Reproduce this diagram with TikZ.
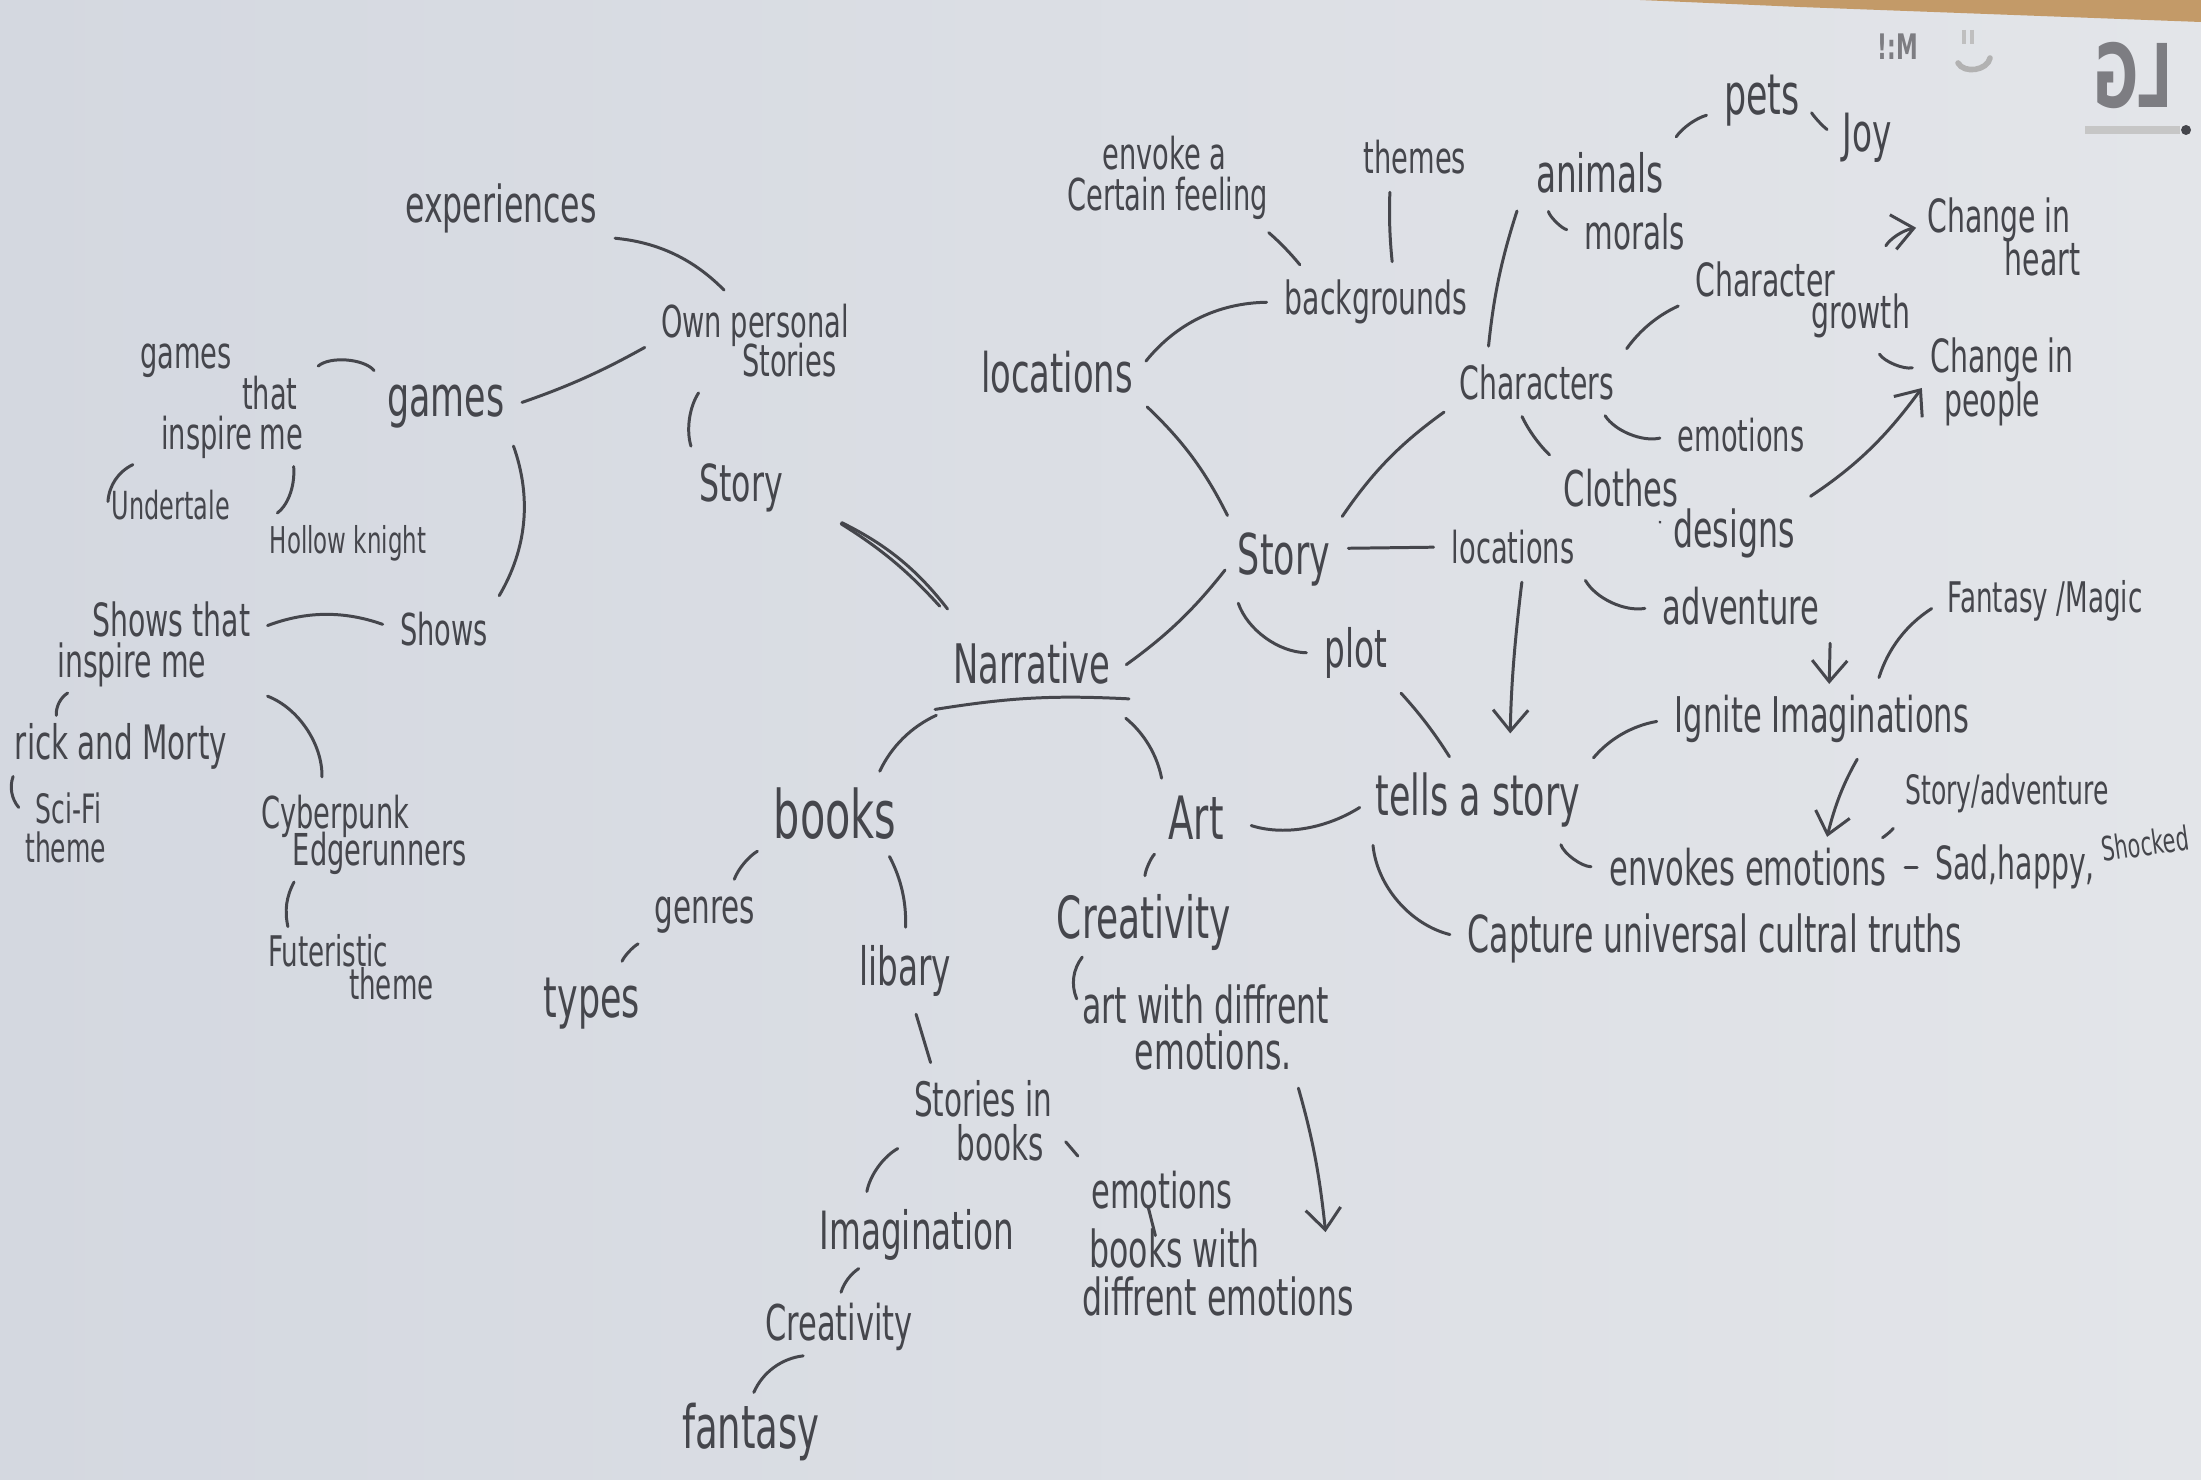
\documentclass[tikz,border=0pt]{standalone}
\usepackage{fontspec}
\setmainfont{DejaVu Sans}[FakeStretch=0.62]
\usetikzlibrary{arrows.meta,calc}
\definecolor{paperA}{HTML}{D4D8E0}
\definecolor{paperB}{HTML}{E3E5E9}
\definecolor{ink}{HTML}{45464C}
\definecolor{wood}{HTML}{C39A68}
\newcommand{\fz}[2]{\fontsize{#1pt}{#2pt}\selectfont\lineskiplimit=-60pt\relax}
\begin{document}
\begin{tikzpicture}[x=0.01cm,y=-0.01cm,
  lab/.style={inner sep=1pt,text=ink},
  ml/.style={lab,align=left,anchor=north west},
  con/.style={draw=ink,line width=0.85pt,line cap=round,shorten <=4pt,shorten >=4pt},
  arr/.style={con,shorten >=2pt,-{Straight Barb[length=6pt,width=10pt]}}]
\shade[left color=paperA,right color=paperB] (0,0) rectangle (2201,1479);
\useasboundingbox (0,0) rectangle (2201,1479);
\fill[wood] (1640,0) -- (2201,0) -- (2201,22) -- (1800,7) -- cycle;
% bleed-through marks
\node[text=ink!70,font=\bfseries\fz{25}{25},xscale=-1] (lg) at (2133,75) {LG};
\draw[gray!45,line width=2.5pt] (2085,130) -- (2180,130);
\fill[ink] (2186,130) circle (5);
\node[text=ink!70,font=\bfseries\fz{10}{10}] (mk) at (1898,47) {!:M};
\draw[gray!60,line width=1.6pt,line cap=round] (1958,63) to[bend right=70] (1990,58);
\draw[gray!50,line width=1.2pt] (1964,30) -- (1964,44) (1972,30) -- (1972,44);

% ---------- nodes ----------
\node[lab,font=\fz{14.5}{17}] (expe) at (501,208) {experiences};
\node[ml,font=\fz{12.5}{11}] (ops) at (657,300) {Own personal\\\hspace*{23pt}Stories};
\node[lab,font=\fz{16}{19}] (gamesM) at (446,407) {games};
\node[ml,font=\fz{12.5}{11.5}] (gti) at (136,340) {games\\\hspace*{29pt}that\\\hspace*{6pt}inspire\,me};
\node[lab,font=\fz{11}{13}] (under) at (171,505) {Undertale};
\node[lab,font=\fz{10.5}{13}] (hollow) at (348,543) {Hollow knight};
\node[lab,font=\fz{14.5}{17}] (storyL) at (741,488) {Story};
\node[lab,font=\fz{12.5}{15}] (shows) at (444,629) {Shows};
\node[ml,font=\fz{13}{11.5}] (sti) at (53,598) {\hspace*{10pt}Shows that\\inspire me};
\node[lab,font=\fz{13.5}{16}] (rick) at (121,746) {rick and Morty};
\node[ml,font=\fz{11.5}{11}] (scifi) at (21,789) {\hspace*{3pt}Sci-Fi\\theme};
\node[ml,font=\fz{12.5}{10.5}] (cyber) at (257,791) {Cyberpunk\\\hspace*{9pt}Edgerunners};
\node[ml,font=\fz{12}{9.5}] (futer) at (264,930) {Futeristic\\\hspace*{23pt}theme};
\node[lab,font=\fz{15.5}{18}] (narr) at (1032,663) {Narrative};
\node[lab,font=\fz{15.5}{18}] (locT) at (1057,372) {locations};
\node[lab,font=\fz{13}{15}] (backg) at (1376,302) {backgrounds};
\node[ml,font=\fz{12.5}{11.5}] (envk) at (1063,132) {\hspace*{10pt}envoke a\\Certain feeling};
\node[lab,font=\fz{12.5}{15}] (themes) at (1415,157) {themes};
\node[lab,font=\fz{15}{18}] (anim) at (1600,173) {animals};
\node[lab,font=\fz{16}{19}] (pets) at (1762,101) {pets};
\node[lab,font=\fz{15}{18}] (joy) at (1867,138) {Joy};
\node[lab,font=\fz{13.5}{16}] (morals) at (1635,232) {morals};
\node[lab,font=\fz{13}{15}] (chars) at (1537,382) {Characters};
\node[ml,font=\fz{13}{9}] (cgrow) at (1691,258) {Character\\\hspace*{33pt}growth};
\node[ml,font=\fz{13}{12}] (cheart) at (1923,194) {Change in\\\hspace*{22pt}heart};
\node[ml,font=\fz{13}{12.5}] (cpeople) at (1926,334) {Change in\\\hspace*{4pt}people};
\node[lab,font=\fz{12.5}{15}] (emoC) at (1741,435) {emotions};
\node[lab,font=\fz{14}{16}] (clothes) at (1621,488) {Clothes};
\node[lab,font=\fz{14.5}{17}] (designs) at (1734,533) {designs};
\node[lab,font=\fz{16}{19}] (storyC) at (1284,559) {Story};
\node[lab,font=\fz{12.5}{15}] (locR) at (1513,547) {locations};
\node[lab,font=\fz{14}{16}] (adv) at (1741,606) {adventure};
\node[lab,font=\fz{12}{14}] (fmagic) at (2045,601) {Fantasy /Magic};
\node[lab,font=\fz{15}{18}] (plot) at (1356,653) {plot};
\node[lab,font=\fz{14}{16}] (ignite) at (1822,719) {Ignite Imaginations};
\node[lab,font=\fz{16}{19}] (tells) at (1478,800) {tells a story};
\node[lab,font=\fz{11.5}{14}] (stadv) at (2007,793) {Story/adventure};
\node[lab,font=\fz{14}{16}] (envE) at (1748,867) {envokes emotions};
\node[lab,font=\fz{13}{15}] (sad) at (2015,867) {Sad,happy,};
\node[lab,font=\fz{9.5}{12},rotate=8,anchor=west] (shock) at (2098,850) {Shocked};
\node[lab,font=\fz{14.5}{17}] (capt) at (1715,938) {Capture universal cultral truths};
\node[lab,font=\fz{19}{22}] (books) at (835,814) {books};
\node[lab,font=\fz{17}{20}] (art) at (1196,818) {Art};
\node[lab,font=\fz{13.5}{16}] (genres) at (705,915) {genres};
\node[lab,font=\fz{16}{19}] (types) at (592,1004) {types};
\node[lab,font=\fz{15}{18}] (libary) at (905,971) {libary};
\node[lab,font=\fz{16.5}{19}] (creaA) at (1144,922) {Creativity};
\node[ml,font=\fz{14.5}{13}] (artwd) at (1078,981) {art with diffrent\\\hspace*{15pt}emotions.};
\node[ml,font=\fz{13.5}{12.5}] (sib) at (910,1076) {Stories in\\\hspace*{12pt}books};
\node[lab,font=\fz{15}{18}] (imag) at (917,1235) {Imagination};
\node[lab,font=\fz{14}{16}] (emoB) at (1162,1190) {emotions};
\node[ml,font=\fz{14.5}{13.5}] (bwde) at (1078,1225) {\hspace*{2pt}books with\\diffrent emotions};
\node[lab,font=\fz{14}{16}] (creaL) at (839,1327) {Creativity};
\node[lab,font=\fz{17}{20}] (fant) at (751,1432) {fantasy};

% Narrative underline
\draw[con,shorten <=0pt,shorten >=0pt] ([xshift=-4pt,yshift=-6pt]narr.south west) to[bend left=6] ([xshift=4pt,yshift=-3pt]narr.south east);

% ---------- connectors ----------
\draw[con] (expe.south east) to[bend left=20] ([xshift=-6pt]ops.north);
\draw[con] (ops.west) to[bend left=5] (gamesM.east);
\draw[con] ([xshift=14pt]ops.south west) to[bend right=25] (storyL.north west);
\draw[con] (gamesM.north west) to[bend right=45] ([yshift=-10pt]gti.north east);
\draw[con,shorten <=1pt,shorten >=1pt] (gti.south west) to[bend right=30] (under.west);
\draw[con,shorten <=1pt] ([xshift=-4pt]gti.south east) to[bend left=30] (hollow.north west);
\draw[con] (gamesM.south east) to[bend left=25] (shows.north east);
\draw[con] (shows.west) to[bend right=20] ([yshift=4pt]sti.east);
\draw[con,shorten <=1pt,shorten >=1pt] ([xshift=5pt]sti.south west) to[bend right=30] ([xshift=13pt]rick.north west);
\draw[con,shorten <=1pt,shorten >=1pt] ([xshift=1pt]rick.south west) to[bend right=30] ([yshift=-6pt]scifi.north west);
\draw[con] (sti.south east) to[bend left=35] ([xshift=-12pt]cyber.north);
\draw[con,shorten <=1pt,shorten >=1pt] ([xshift=11pt]cyber.south west) to[bend right=20] ([xshift=7pt]futer.north west);
\draw[con] ([xshift=12pt]storyL.south east) to[bend left=8] ([yshift=6pt]narr.north west);
\draw[con] ([xshift=12pt]storyL.south east) to[bend left=13] ([xshift=2pt,yshift=5pt]narr.north west);
\draw[con] ([yshift=-10pt]narr.north east) to[bend right=8] (storyC.west);
\draw[con] (locT.south east) to[bend left=10] (storyC.north west);
\draw[con] (locT.east) to[bend left=25] (backg.west);
\draw[con] ([xshift=8pt]backg.north west) to[bend right=5] ([xshift=-4pt]envk.south east);
\draw[con] ([xshift=5pt]backg.north) to[bend left=4] ([xshift=-7pt]themes.south);
\draw[con] ([xshift=9pt]chars.north west) to[bend left=6] ([xshift=-3pt]anim.south west);
\draw[con] (anim.north east) to[bend left=20] ([yshift=-3pt]pets.west);
\draw[con] (pets.east) to[bend right=10] (joy.west);
\draw[con] ([xshift=4pt]anim.south west) to[bend right=35] (morals.west);
\draw[con] (storyC.north east) to[bend left=10] (chars.south west);
\draw[con] (chars.north east) to[bend left=15] (cgrow.west);
\draw[arr] ([xshift=-10pt]cgrow.north east) to[bend left=25] ([yshift=3pt]cheart.west);
\draw[con] ([xshift=-12pt]cgrow.south east) to[bend right=35] ([yshift=5pt]cpeople.west);
\draw[arr] (designs.north east) to[bend right=10] (cpeople.west);
\draw[con] ([xshift=-6pt]chars.south east) to[bend right=35] (emoC.west);
\draw[con] ([xshift=-6pt]chars.south) to[bend right=10] (clothes.north west);
\draw[con] ([xshift=-9pt]clothes.south east) -- (designs.west);
\draw[con] ([yshift=3pt]storyC.east) -- (locR.west);
\draw[con] (locR.south east) to[bend right=35] (adv.west);
\draw[arr,shorten >=10pt] ([xshift=3pt]locR.south) to[bend right=3] ([xshift=9pt]tells.north);
\draw[con] (storyC.south west) to[bend right=35] (plot.west);
\draw[con] (plot.south east) to[bend left=5] ([xshift=-6pt]tells.north);
\draw[arr] ([xshift=2pt]adv.south east) -- ([xshift=2pt]ignite.north);
\draw[con] ([xshift=15pt]ignite.north) to[bend left=20] (fmagic.west);
\draw[con] (tells.north east) to[bend left=20] (ignite.west);
\draw[arr] ([xshift=12pt]ignite.south) to[bend right=8] ([xshift=22pt]envE.north);
\draw[con] (stadv.south west) to[bend left=15] ([xshift=-6pt]envE.north east);
\draw[con] ([xshift=-8pt]tells.south east) to[bend right=35] (envE.west);
\draw[con] (envE.east) -- (sad.west);
\draw[con] (tells.south west) to[bend right=35] (capt.west);
\draw[con,shorten <=7pt] (art.east) to[bend right=25] (tells.west);
\draw[con] ([yshift=-6pt]narr.south west) to[bend right=20] ([xshift=11pt]books.north);
\draw[con] ([yshift=-6pt]narr.south east) to[bend left=20] (art.north west);
\draw[con] (books.south west) to[bend right=20] ([xshift=7pt]genres.north);
\draw[con] (genres.south west) to[bend right=20] ([xshift=7pt]types.north);
\draw[con] ([xshift=-5pt]books.south east) to[bend left=15] (libary.north);
\draw[con] (art.south west) to[bend right=20] (creaA.north);
\draw[con,shorten <=1pt,shorten >=1pt] ([xshift=9pt]creaA.south west) to[bend right=30] ([yshift=-6pt]artwd.north west);
\draw[con] ([xshift=2pt]libary.south) -- ([xshift=7pt]sib.north west);
\draw[arr] ([xshift=-11pt]artwd.south east) to[bend left=5] ([xshift=-9pt,yshift=-4pt]bwde.north east);
\draw[con] ([yshift=-6pt]sib.west) to[bend right=25] ([xshift=-15pt]imag.north);
\draw[con] ([yshift=-3pt]sib.east) -- (emoB.north west);
\draw[con,shorten <=0pt,shorten >=0pt] ([xshift=-4pt,yshift=2pt]emoB.south) -- ([xshift=22pt,yshift=-3pt]bwde.north west);
\draw[con,shorten <=2pt,shorten >=2pt] ([xshift=14pt]imag.south west) to[bend right=20] (creaL.north);
\draw[con,shorten <=2pt,shorten >=2pt] ([xshift=14pt]creaL.south west) to[bend right=30] (fant.north);
\end{tikzpicture}
\end{document}
